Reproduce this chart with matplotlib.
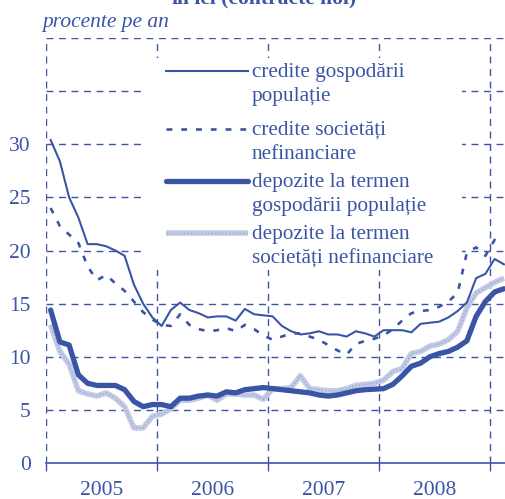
import numpy as np
import matplotlib
matplotlib.use("Agg")
import matplotlib.pyplot as plt
from matplotlib.patches import Rectangle
from matplotlib.lines import Line2D

BLUE = "#3a55a6"
GREY = "#c3cae6"
GREY_DOT = "#9ca8d4"

plt.rcParams["font.family"] = ["Liberation Serif", "DejaVu Serif"]

# monthly data, Jan 2005 - Feb 2009 (percent per year)
credite_gosp = [30.4, 28.4, 25.0, 23.1, 20.6, 20.6, 20.4, 20.0, 19.5, 16.8,
                15.0, 13.7, 12.9, 14.4, 15.1, 14.4, 14.1, 13.7, 13.8, 13.8,
                13.4, 14.5, 14.0, 13.9, 13.8, 12.9, 12.4, 12.1, 12.2, 12.4,
                12.1, 12.1, 11.9, 12.4, 12.2, 11.9, 12.5, 12.5, 12.5, 12.3,
                13.1, 13.2, 13.3, 13.7, 14.3, 15.1, 17.4, 17.8, 19.2, 18.7]
credite_soc = [24.0, 22.3, 21.5, 20.7, 18.5, 17.2, 17.7, 16.9, 16.2, 15.2,
               14.2, 13.5, 13.0, 12.9, 14.0, 13.0, 12.6, 12.4, 12.5, 12.7,
               12.4, 13.0, 12.6, 12.0, 11.6, 11.9, 12.2, 12.2, 11.9, 11.6,
               11.1, 10.6, 10.2, 11.2, 11.5, 11.7, 12.0, 12.6, 13.4, 14.1,
               14.3, 14.4, 14.7, 15.2, 16.0, 19.8, 20.3, 19.5, 21.0, 20.7]
depozite_gosp = [14.4, 11.4, 11.1, 8.3, 7.5, 7.3, 7.3, 7.3, 6.9, 5.8,
                 5.3, 5.5, 5.5, 5.3, 6.1, 6.1, 6.3, 6.4, 6.3, 6.7,
                 6.6, 6.9, 7.0, 7.1, 7.0, 6.9, 6.8, 6.7, 6.6, 6.4,
                 6.3, 6.4, 6.6, 6.8, 6.9, 6.95, 7.0, 7.4, 8.2, 9.1,
                 9.4, 10.0, 10.3, 10.5, 10.9, 11.5, 13.8, 15.2, 16.1, 16.4]
depozite_soc = [13.0, 10.5, 9.3, 6.8, 6.5, 6.3, 6.6, 6.1, 5.3, 3.3,
                3.3, 4.4, 4.6, 5.1, 5.9, 5.9, 6.1, 6.4, 5.9, 6.5,
                6.5, 6.4, 6.4, 6.0, 7.0, 7.0, 7.1, 8.2, 7.0, 6.9,
                6.8, 6.8, 7.0, 7.3, 7.4, 7.5, 7.8, 8.6, 8.9, 10.3,
                10.5, 11.0, 11.2, 11.6, 12.4, 14.6, 16.0, 16.5, 17.0, 17.4]

years = ["2005", "2006", "2007", "2008"]
legend_labels = ["credite gospodării\npopulație",
                 "credite societăți\nnefinanciare",
                 "depozite la termen\ngospodării populație",
                 "depozite la termen\nsocietăți nefinanciare"]

W, H = 506, 499
fig = plt.figure(figsize=(W / 100, H / 100), dpi=100)
ax_l, ax_r, ax_t, ax_b = 46, 506, 38, 463
ax = fig.add_axes([ax_l / W, 1 - ax_b / H, (ax_r - ax_l) / W, (ax_b - ax_t) / H])

x = np.arange(len(credite_gosp)) + 0.5
ax.set_xlim(0, (ax_r - ax_l) / 9.25)
ax.set_ylim(0, 40)

# grid
dash = (0, (5, 4))
for yv in range(5, 41, 5):
    ax.axhline(yv, color=BLUE, lw=1.0, ls=dash, zorder=1)
for xv in range(0, 49, 12):
    ax.axvline(xv, color=BLUE, lw=1.0, ls=dash, zorder=1)

# legend box (white, covers grid)
def px(xp, yp):
    return ((xp - ax_l) / (ax_r - ax_l), (ax_b - yp) / (ax_b - ax_t))

x0, y0 = px(146, 270)
x1, y1 = px(462, 58)
ax.add_patch(Rectangle((x0, y0), x1 - x0, y1 - y0, transform=ax.transAxes,
                       facecolor="white", edgecolor="none", zorder=2))

# series
ax.plot(x, depozite_soc, color=GREY, lw=4.0, zorder=3, solid_capstyle="butt")
ax.plot(x, depozite_soc, color=GREY_DOT, lw=1.0, ls=(0, (1, 1.5)), zorder=3)
ax.plot(x, depozite_gosp, color=BLUE, lw=3.8, zorder=4, solid_capstyle="round")
ax.plot(x, credite_soc, color=BLUE, lw=1.9, ls=(0, (2.2, 3.4)), zorder=4)
ax.plot(x, credite_gosp, color=BLUE, lw=1.5, zorder=4)

# legend entries
styles = [dict(color=BLUE, lw=1.5),
          dict(color=BLUE, lw=1.9, ls=(0, (2.2, 3.4))),
          dict(color=BLUE, lw=3.8, solid_capstyle="round"),
          None]
handle_y = [71, 129, 181, 233]
for st, yp, lab in zip(styles, handle_y, legend_labels):
    hx0, hy = px(166, yp)
    hx1, _ = px(248, yp)
    if st is None:
        ax.add_line(Line2D([hx0, hx1], [hy, hy], transform=ax.transAxes,
                           color=GREY, lw=4.0, solid_capstyle="butt", zorder=5))
        ax.add_line(Line2D([hx0, hx1], [hy, hy], transform=ax.transAxes,
                           color=GREY_DOT, lw=1.0, ls=(0, (1, 1.5)), zorder=5))
    else:
        ax.add_line(Line2D([hx0, hx1], [hy, hy], transform=ax.transAxes,
                           zorder=5, **st))
    tx, ty = px(252, yp - 8)
    ax.text(tx, ty, lab, transform=ax.transAxes, ha="left", va="top",
            fontsize=15.3, color=BLUE, linespacing=1.38, zorder=6)

# axes styling
for s in ["top", "right", "left"]:
    ax.spines[s].set_visible(False)
ax.spines["bottom"].set_color(BLUE)
ax.spines["bottom"].set_linewidth(1.2)

ax.set_yticks(range(0, 31, 5))
ax.tick_params(axis="y", length=0, pad=11, labelsize=15.5, labelcolor=BLUE)
ax.set_xticks([0, 12, 24, 36, 48])
ax.set_xticklabels([])
ax.set_xticks([6, 18, 30, 42], minor=True)
ax.set_xticklabels(years, minor=True)
ax.tick_params(axis="x", which="major", length=6, width=1.0, color=BLUE,
               direction="out")
ax.tick_params(axis="x", which="minor", length=0, pad=13, labelsize=15.5,
               labelcolor=BLUE)

fig.text(42 / W, 1 - 22 / H, "procente pe an", fontsize=15.5, style="italic",
         color=BLUE, ha="left", va="center")
fig.text(264 / W, 1 - 3 / H, "în lei (contracte noi)", fontsize=15.5,
         fontweight="bold", color=BLUE, ha="center", va="baseline")

fig.savefig("out.png", dpi=100)
